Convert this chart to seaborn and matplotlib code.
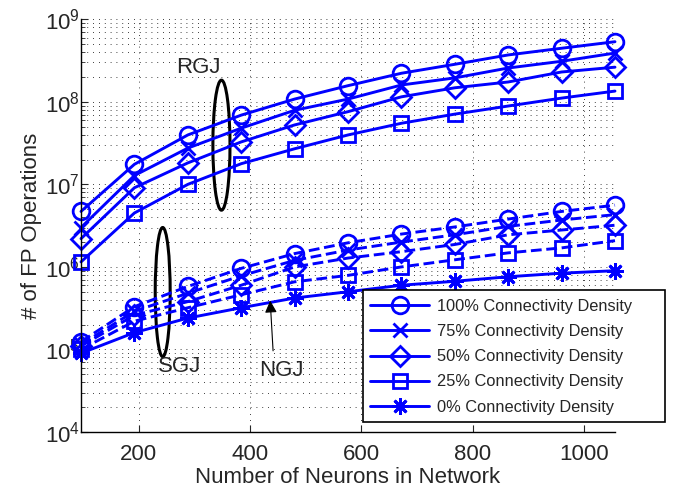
import matplotlib
matplotlib.use("Agg")
import numpy as np
import matplotlib.pyplot as plt
import seaborn as sns
from matplotlib.lines import Line2D
from matplotlib.patches import Ellipse, Rectangle

# number of neurons on the x axis
neurons = [96, 192, 288, 384, 480, 576, 672, 768, 864, 960, 1056]

# RGJ (solid) - FP operations per connectivity density
rgj_100 = [4.7e6, 1.75e7, 3.97e7, 6.9e7, 1.08e8, 1.57e8, 2.22e8, 2.85e8, 3.7e8, 4.46e8, 5.35e8]
rgj_75 = [3.0e6, 1.28e7, 2.75e7, 4.8e7, 7.9e7, 1.08e8, 1.6e8, 1.95e8, 2.57e8, 3.1e8, 3.9e8]
rgj_50 = [2.2e6, 9.1e6, 1.82e7, 3.27e7, 5.25e7, 7.6e7, 1.15e8, 1.48e8, 1.74e8, 2.3e8, 2.63e8]
rgj_25 = [1.15e6, 4.5e6, 1.0e7, 1.78e7, 2.7e7, 3.97e7, 5.5e7, 7.1e7, 8.9e7, 1.11e8, 1.35e8]

# SGJ (dashed)
sgj_100 = [1.24e5, 3.3e5, 5.8e5, 9.6e5, 1.45e6, 1.96e6, 2.5e6, 3.05e6, 3.8e6, 4.7e6, 5.6e6]
sgj_75 = [1.15e5, 2.9e5, 4.8e5, 7.8e5, 1.2e6, 1.6e6, 2.0e6, 2.45e6, 3.1e6, 3.7e6, 4.3e6]
sgj_50 = [1.1e5, 2.6e5, 3.8e5, 6.0e5, 1.0e6, 1.28e6, 1.53e6, 1.87e6, 2.45e6, 2.8e6, 3.2e6]
sgj_25 = [1.0e5, 2.2e5, 3.2e5, 4.6e5, 6.6e5, 7.9e5, 1.0e6, 1.22e6, 1.48e6, 1.7e6, 2.08e6]

# NGJ (0% connectivity, solid)
ngj_0 = [9.0e4, 1.6e5, 2.4e5, 3.2e5, 4.2e5, 5.0e5, 6.0e5, 6.7e5, 7.6e5, 8.4e5, 9.0e5]

labels = ["100% Connectivity Density", "75% Connectivity Density",
          "50% Connectivity Density", "25% Connectivity Density",
          "0% Connectivity Density"]
markers = ["o", "x", "D", "s", (8, 2, 0)]
sizes = [12, 10, 10, 10, 12]

sns.set_style("white")
plt.rcParams['font.family'] = ['Liberation Sans', 'DejaVu Sans']
plt.rcParams['mathtext.fontset'] = 'custom'
plt.rcParams['mathtext.rm'] = 'Liberation Sans'

fig = plt.figure(figsize=(6.76, 4.87), dpi=100)
ax = fig.add_axes([81 / 676, 1 - 432 / 487, 534 / 676, 412.7 / 487])

blue = (0, 0, 1)


def draw(values, marker, ms, ls):
    sns.lineplot(x=neurons, y=values, ax=ax, color=blue, lw=2.1, linestyle=ls,
                 marker=marker, markersize=ms, markerfacecolor='none',
                 markeredgecolor=blue, markeredgewidth=2, clip_on=False)


for vals, m, s in zip([rgj_100, rgj_75, rgj_50, rgj_25], markers[:4], sizes[:4]):
    draw(vals, m, s, '-')
for vals, m, s in zip([sgj_100, sgj_75, sgj_50, sgj_25], markers[:4], sizes[:4]):
    draw(vals, m, s, '--')
draw(ngj_0, markers[4], sizes[4], '-')

ax.set_yscale('log')
ax.set_ylim(1e4, 1e9)
ax.set_xlim(96, 1056)
ax.set_xticks([200, 400, 600, 800, 1000])
ax.set_xlabel("Number of Neurons in Network", fontsize=16, labelpad=1)
ax.set_ylabel("# of FP Operations", fontsize=16, labelpad=2)
ax.tick_params(axis='both', labelsize=16, direction='in', length=5, width=0.8)
ax.tick_params(axis='x', which='major', bottom=True, pad=9)
ax.tick_params(axis='y', which='major', left=True, pad=1)
ax.tick_params(axis='y', which='minor', direction='in', length=3, width=0.6, left=True)

dots = (0, (1, 6))
ax.grid(True, which='major', axis='both', color='black', linestyle=dots, linewidth=0.6)
ax.grid(True, which='minor', axis='y', color='black', linestyle=dots, linewidth=0.6)
for side in ['top', 'right']:
    ax.spines[side].set_visible(False)
for side in ['left', 'bottom']:
    ax.spines[side].set_color('black')
    ax.spines[side].set_linewidth(1)

# annotations
ax.add_patch(Ellipse((0.263, 0.695), 0.032, 0.315, transform=ax.transAxes,
                     fill=False, edgecolor='black', lw=2.2, clip_on=False))
ax.add_patch(Ellipse((0.153, 0.339), 0.028, 0.313, transform=ax.transAxes,
                     fill=False, edgecolor='black', lw=2.2, clip_on=False))
ax.text(0.219, 0.882, "RGJ", transform=ax.transAxes, fontsize=16, ha='center', va='center')
ax.text(0.185, 0.158, "SGJ", transform=ax.transAxes, fontsize=16, ha='center', va='center')
ax.text(0.376, 0.150, "NGJ", transform=ax.transAxes, fontsize=16, ha='center', va='center')
ax.annotate("", xy=(0.354, 0.325), xytext=(0.36, 0.19), xycoords='axes fraction',
            arrowprops=dict(arrowstyle='-|>', color='black', lw=0.8, mutation_scale=18))

# legend box (drawn separately so it can be wider than its contents)
box = Rectangle((363 / 676, 1 - 422 / 487), 302 / 676, 132 / 487, transform=fig.transFigure,
                facecolor='white', edgecolor='black', lw=1.2, zorder=4)
fig.patches.append(box)

handles = [Line2D([0], [0], color=blue, lw=2.1, marker=m, markersize=s,
                  markerfacecolor='none', markeredgecolor=blue, markeredgewidth=2)
           for m, s in zip(markers, sizes)]
leg = fig.legend(handles, labels, loc='lower left', bbox_to_anchor=(363 / 676, 1 - 422 / 487),
                 bbox_transform=fig.transFigure, fontsize=11.8, frameon=False,
                 handlelength=3.6, borderpad=0.45, labelspacing=0.62, handletextpad=0.45,
                 borderaxespad=0)
leg.set_zorder(5)

fig.savefig("out.png", dpi=100)
